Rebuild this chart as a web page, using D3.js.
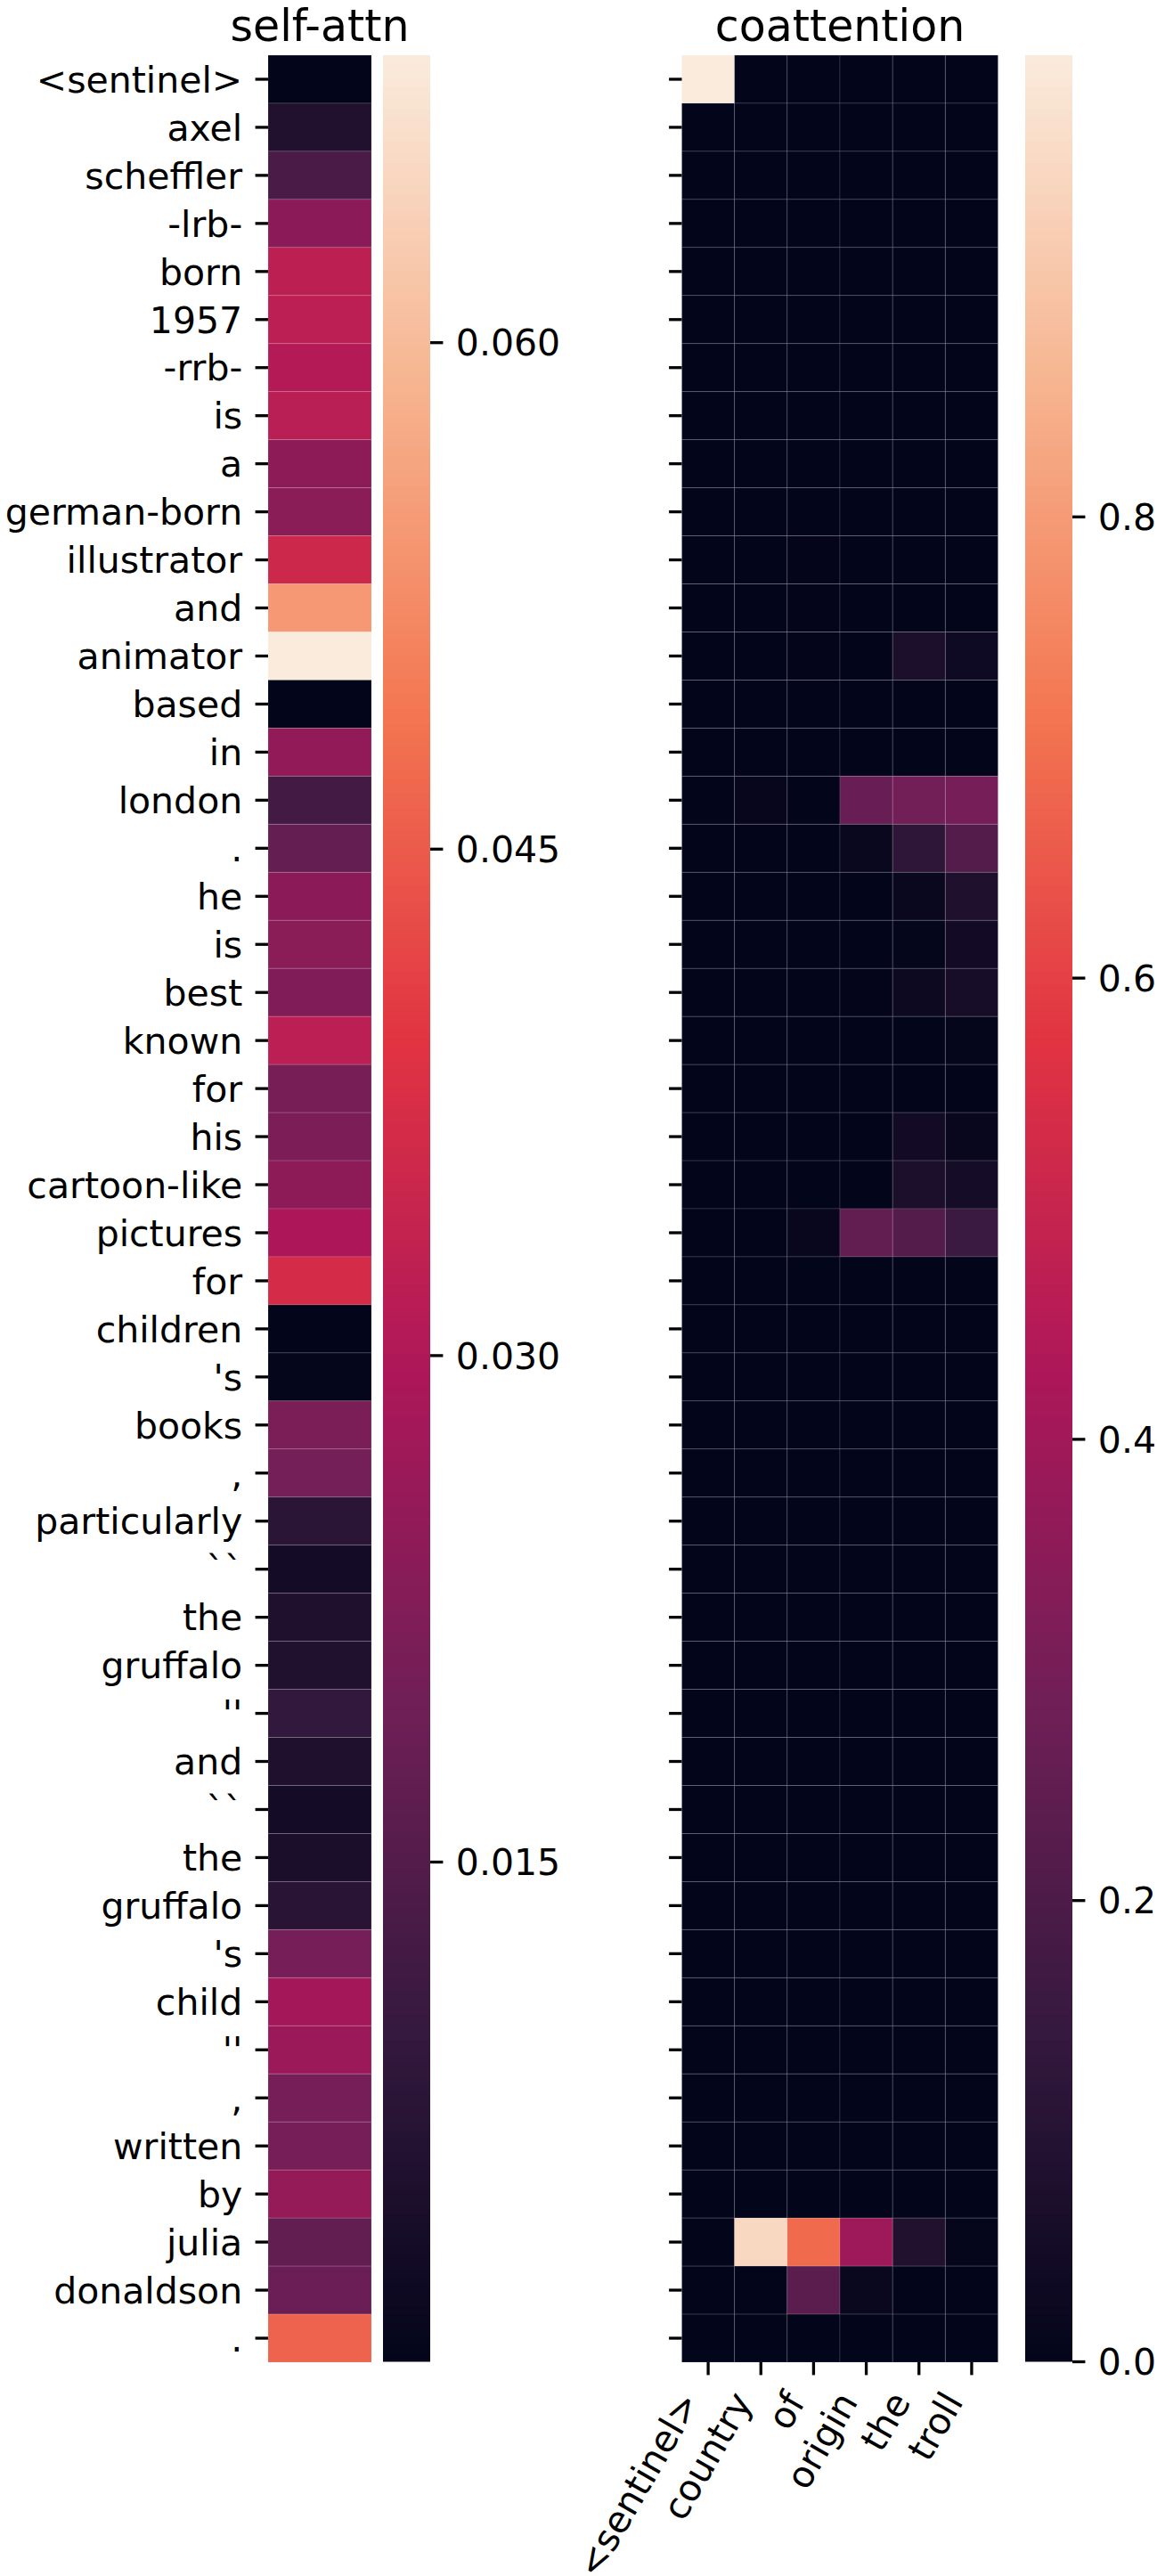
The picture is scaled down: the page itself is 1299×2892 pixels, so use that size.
<!DOCTYPE html>
<html>
<head>
<meta charset="utf-8">
<script src="https://cdn.jsdelivr.net/npm/d3@7"></script>
<style>
  body { margin: 0; background: #fff; }
  text { font-family: "DejaVu Sans", sans-serif; fill: #000; }
</style>
</head>
<body>
<svg id="chart"></svg>
<script>
// ---------------- DATA ----------------
const rowLabels = ["<sentinel>", "axel", "scheffler", "-lrb-", "born", "1957", "-rrb-", "is", "a",
  "german-born", "illustrator", "and", "animator", "based", "in", "london", ".", "he", "is", "best",
  "known", "for", "his", "cartoon-like", "pictures", "for", "children", "'s", "books", ",",
  "particularly", "``", "the", "gruffalo", "''", "and", "``", "the", "gruffalo", "'s", "child", "''",
  ",", "written", "by", "julia", "donaldson", "."];

const colLabels = ["<sentinel>", "country", "of", "origin", "the", "troll"];

const selfAttn = [0.0002, 0.0060, 0.0135, 0.0240, 0.0323, 0.0322, 0.0307, 0.0318, 0.0242, 0.0239,
  0.0353, 0.0544, 0.0685, 0.0002, 0.0253, 0.0123, 0.0178, 0.0240, 0.0238, 0.0223,
  0.0322, 0.0208, 0.0216, 0.0242, 0.0294, 0.0368, 0.0002, 0.0005, 0.0215, 0.0203,
  0.0080, 0.0035, 0.0057, 0.0059, 0.0094, 0.0057, 0.0035, 0.0048, 0.0077, 0.0205,
  0.0281, 0.0266, 0.0207, 0.0207, 0.0257, 0.0175, 0.0188, 0.0462];

// coattention columns (one value per document row)
const coSentinel = [1.0, 0, 0, 0, 0, 0, 0, 0, 0, 0, 0, 0, 0, 0, 0, 0, 0, 0, 0, 0, 0, 0, 0, 0,
  0, 0, 0, 0, 0, 0, 0, 0, 0, 0, 0, 0, 0, 0, 0, 0, 0, 0, 0, 0, 0, 0, 0, 0];
const coCountry = [0, 0, 0, 0, 0, 0, 0, 0, 0, 0, 0, 0, 0, 0, 0, 0.01, 0, 0, 0, 0, 0, 0, 0, 0,
  0, 0, 0, 0, 0, 0, 0, 0, 0, 0, 0, 0, 0, 0, 0, 0, 0, 0, 0, 0, 0, 0.95, 0, 0];
const coOf = [0, 0, 0, 0, 0, 0, 0, 0, 0, 0, 0.003, 0.003, 0.003, 0, 0, 0, 0, 0, 0, 0, 0, 0, 0, 0,
  0.015, 0, 0, 0, 0, 0, 0, 0, 0, 0, 0, 0, 0, 0, 0, 0, 0, 0, 0, 0, 0, 0.69, 0.233, 0];
const coOrigin = [0, 0, 0, 0, 0, 0, 0, 0, 0, 0, 0, 0, 0, 0, 0, 0.266, 0.02, 0, 0, 0.003, 0, 0, 0, 0,
  0.254, 0, 0, 0, 0, 0, 0, 0, 0, 0, 0, 0, 0, 0, 0, 0, 0, 0, 0, 0, 0, 0.393, 0.02, 0];
const coThe = [0, 0, 0, 0, 0, 0, 0, 0, 0, 0, 0, 0, 0.07, 0, 0, 0.293, 0.123, 0.02, 0.006, 0.025, 0, 0, 0.045, 0.07,
  0.218, 0, 0, 0, 0, 0, 0, 0, 0, 0, 0, 0, 0, 0, 0, 0, 0, 0, 0, 0, 0, 0.085, 0, 0];
const coTroll = [0, 0, 0, 0, 0, 0, 0, 0, 0, 0, 0, 0, 0.034, 0, 0, 0.297, 0.218, 0.08, 0.046, 0.06, 0.005, 0, 0.015, 0.05,
  0.158, 0, 0, 0, 0, 0, 0, 0, 0, 0, 0, 0, 0, 0, 0, 0, 0, 0, 0, 0, 0, 0.005, 0, 0];

const selfTicks = [0.015, 0.030, 0.045, 0.060];
const coTicks = [0.0, 0.2, 0.4, 0.6, 0.8];

// ---------------- LAYOUT ----------------
const W = 1299, H = 2892;
const FS = 41, TFS = 49, TICK = 14.4, PAD = 14.4, TW = 3.3;
const yTop = 62, yBottom = 2652;

const svg = d3.select("#chart").attr("width", W).attr("height", H);
svg.append("rect").attr("width", W).attr("height", H).attr("fill", "#fff");

const rocketStops = ["#03051a", "#35193e", "#701f57", "#ad1759", "#e13342", "#f37651", "#f6b48f", "#faebdd"];
const rocket = d3.piecewise(d3.interpolateRgb, rocketStops);

const rows = d3.range(rowLabels.length);
const y = d3.scaleBand().domain(rows).range([yTop, yBottom]).padding(0);

function styleAxis(g) {
  g.select(".domain").remove();
  g.selectAll(".tick line").attr("stroke", "#000").attr("stroke-width", TW);
  g.selectAll(".tick text").attr("font-size", FS).attr("font-family", "DejaVu Sans");
}

// ---------- self-attn heatmap ----------
const xSelf = d3.scaleBand().domain(["self"]).range([301, 417]);
const selfExt = d3.extent(selfAttn);
const cSelf = d3.scaleSequential(rocket).domain(selfExt);

svg.append("g").selectAll("rect").data(selfAttn).join("rect")
  .attr("x", xSelf("self")).attr("y", (d, i) => y(i))
  .attr("width", xSelf.bandwidth()).attr("height", y.bandwidth())
  .attr("fill", d => cSelf(d))
  .attr("stroke", "rgba(255,255,255,0.13)").attr("stroke-width", 1);

const ySelfAxis = svg.append("g").attr("transform", `translate(${xSelf.range()[0]},0)`)
  .call(d3.axisLeft(y).tickSize(TICK).tickPadding(PAD).tickFormat(i => rowLabels[i]));
styleAxis(ySelfAxis);
ySelfAxis.selectAll(".tick text").attr("dy", "0.36em");

svg.append("text").attr("x", (xSelf.range()[0] + xSelf.range()[1]) / 2).attr("y", 46)
  .attr("text-anchor", "middle").attr("font-size", TFS).text("self-attn");

// colorbar
function colorbar(x0, x1, scale, ticks, fmt) {
  const cbY = d3.scaleLinear().domain(scale.domain()).range([yBottom - 1, yTop]);
  const n = 300;
  const [d0, d1] = scale.domain();
  const steps = d3.range(n).map(k => d0 + (d1 - d0) * (k + 0.5) / n);
  const h = (yBottom - 1 - yTop) / n;
  svg.append("g").selectAll("rect").data(steps).join("rect")
    .attr("x", x0).attr("width", x1 - x0)
    .attr("y", d => Math.max(yTop, cbY(d) - h / 2 - 0.5))
    .attr("height", h + 1)
    .attr("fill", d => scale(d));
  const ax = svg.append("g").attr("transform", `translate(${x1},0)`)
    .call(d3.axisRight(cbY).tickValues(ticks).tickSize(TICK).tickPadding(PAD).tickFormat(d3.format(fmt)));
  styleAxis(ax);
  ax.selectAll(".tick text").attr("dy", "0.36em");
}
colorbar(430, 483, cSelf, selfTicks, ".3f");

// ---------- coattention heatmap ----------
const coCols = [coSentinel, coCountry, coOf, coOrigin, coThe, coTroll];
const xCo = d3.scaleBand().domain(d3.range(colLabels.length)).range([765.5, 1120.5]);
const coMax = d3.max(coCols, c => d3.max(c));
const cCo = d3.scaleSequential(rocket).domain([0, coMax]);

const cells = [];
coCols.forEach((col, j) => col.forEach((v, i) => cells.push({ i, j, v })));
svg.append("g").selectAll("rect").data(cells).join("rect")
  .attr("x", d => xCo(d.j)).attr("y", d => y(d.i))
  .attr("width", xCo.bandwidth()).attr("height", y.bandwidth())
  .attr("fill", d => cCo(d.v))
  .attr("stroke", "rgba(255,255,255,0.13)").attr("stroke-width", 1);

const yCoAxis = svg.append("g").attr("transform", `translate(${xCo.range()[0]},0)`)
  .call(d3.axisLeft(y).tickSize(TICK).tickFormat(() => ""));
styleAxis(yCoAxis);

const xCoAxis = svg.append("g").attr("transform", `translate(0,${yBottom})`)
  .call(d3.axisBottom(xCo).tickSize(TICK).tickFormat(j => colLabels[j]));
styleAxis(xCoAxis);
xCoAxis.selectAll(".tick text")
  .attr("x", 0).attr("y", 0).attr("dy", 0)
  .attr("text-anchor", "end")
  .attr("transform", "translate(-8.5,44.4) rotate(-60)");

svg.append("text").attr("x", (xCo.range()[0] + xCo.range()[1]) / 2).attr("y", 46)
  .attr("text-anchor", "middle").attr("font-size", TFS).text("coattention");

colorbar(1151, 1204, cCo, coTicks, ".1f");
</script>
</body>
</html>
